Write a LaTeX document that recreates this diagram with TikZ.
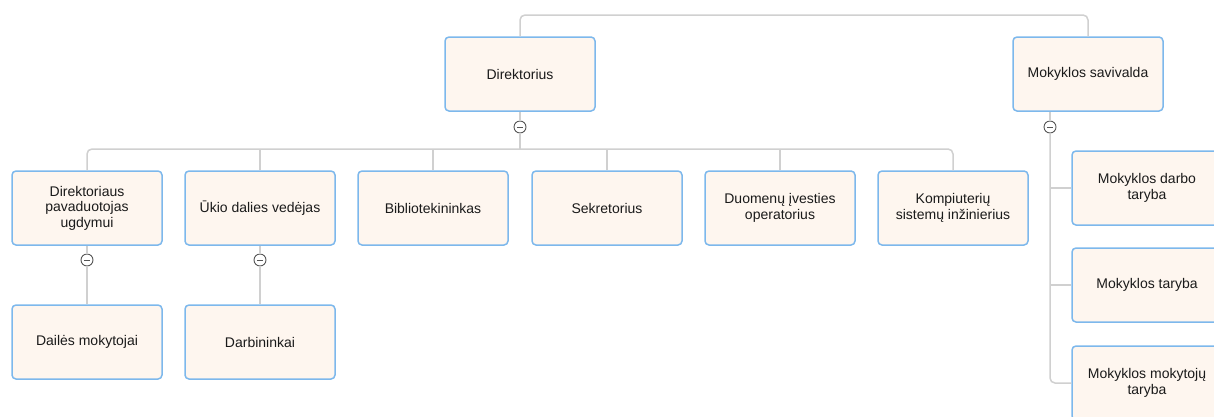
\documentclass[tikz,border=0pt]{standalone}
\usepackage{fontspec}
\setmainfont{Liberation Sans}
\usetikzlibrary{calc}
\definecolor{boxfill}{HTML}{FEF6EF}
\definecolor{boxdraw}{HTML}{7DB8EC}
\definecolor{conncol}{HTML}{D0D0D0}
\definecolor{txtcol}{HTML}{1A1A1A}
\definecolor{circcol}{HTML}{555555}
\tikzset{
  orgbox/.style={draw=boxdraw, fill=boxfill, line width=1.5pt, rounded corners=4pt,
    minimum width=150pt, minimum height=74pt, align=center, text=txtcol,
    font=\fontsize{14}{15.5}\selectfont, inner sep=2pt},
  conn/.style={draw=conncol, line width=1.5pt},
  toggle/.style={circle, draw=circcol, fill=white, line width=0.9pt, minimum size=12pt, inner sep=0pt},
}
\begin{document}
\begin{tikzpicture}[x=1pt,y=-1pt]
\useasboundingbox (0,0) rectangle (1214,416);
\clip (0,0) rectangle (1214,416);
% nodes
\node[orgbox] (dir) at (520,74) {Direktorius};
\node[orgbox] (mks) at (1088,74) {Mokyklos savivalda};
\node[orgbox] (ch1) at (87,208) {Direktoriaus\\pavaduotojas\\ugdymui};
\node[orgbox] (ch2) at (260,208) {Ūkio dalies vedėjas};
\node[orgbox] (ch3) at (433,208) {Bibliotekininkas};
\node[orgbox] (ch4) at (607,208) {Sekretorius};
\node[orgbox] (ch5) at (780,208) {Duomenų įvesties\\operatorius};
\node[orgbox] (ch6) at (953,208) {Kompiuterių\\sistemų inžinierius};
\node[orgbox] (g1) at (87,342) {Dailės mokytojai};
\node[orgbox] (g2) at (260,342) {Darbininkai};
\node[orgbox] (r1) at (1147,188) {Mokyklos darbo\\taryba};
\node[orgbox] (r2) at (1147,285) {Mokyklos taryba};
\node[orgbox] (r3) at (1147,383) {Mokyklos mokytojų\\taryba};
\coordinate (top) at (804,15);
\coordinate (bus) at (520,149);
% toggles
\node[toggle] (t0) at (520,127) {};
\node[toggle] (t1) at (87,260) {};
\node[toggle] (t2) at (260,260) {};
\node[toggle] (t3) at (1050,127) {};
% connectors
\draw[conn, rounded corners=5pt] (dir.north) |- (top) -| (mks.north);
\draw[conn] (dir.south) -- (t0.north);
\draw[conn] (t0.south) -- (bus);
\draw[conn, rounded corners=5pt] (ch1.north) |- (bus) -| (ch6.north);
\foreach \c in {ch2,ch3,ch4,ch5} \draw[conn] (\c.north) -- (\c.north |- bus);
\draw[conn] (ch1.south) -- (t1.north);
\draw[conn] (t1.south) -- (g1.north);
\draw[conn] (ch2.south) -- (t2.north);
\draw[conn] (t2.south) -- (g2.north);
\draw[conn] (t3.north) -- (t3.north |- mks.south);
\draw[conn, rounded corners=5pt] (t3.south) |- (r3.west);
\draw[conn] (r1.west -| t3) -- (r1.west);
\draw[conn] (r2.west -| t3) -- (r2.west);
% toggle minus signs
\foreach \t in {t0,t1,t2,t3} {
  \draw[circcol, line width=0.9pt] ($(\t)+(-3.2,0)$) -- ($(\t)+(3.2,0)$);
}
\end{tikzpicture}
\end{document}
